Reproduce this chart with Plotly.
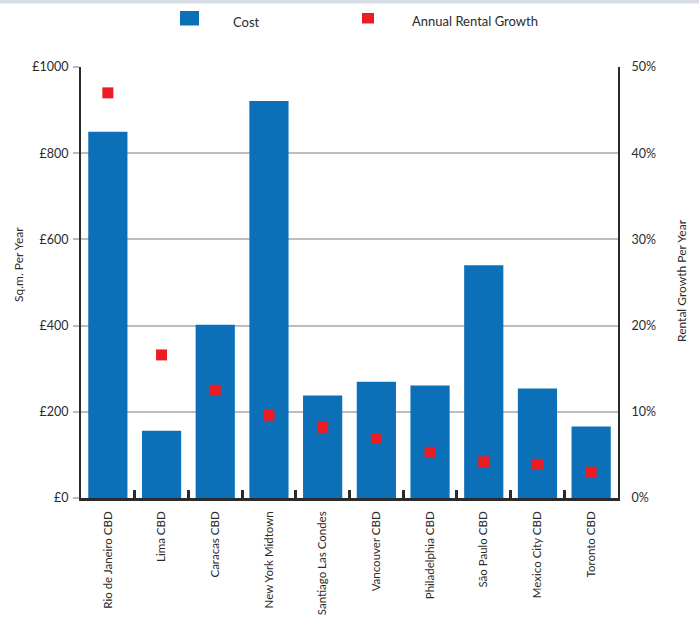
import plotly.graph_objects as go

# Office markets: occupancy cost and annual rental growth
markets = [
    "Rio de Janeiro CBD", "Lima CBD", "Caracas CBD", "New York Midtown",
    "Santiago Las Condes", "Vancouver CBD", "Philadelphia CBD",
    "São Paulo CBD", "Mexico City CBD", "Toronto CBD",
]
cost_gbp = [850, 156, 402, 921, 238, 270, 261, 540, 254, 166]
growth_pct = [47.0, 16.6, 12.5, 9.6, 8.2, 6.9, 5.3, 4.2, 3.9, 3.0]

cost_ticks = [0, 200, 400, 600, 800, 1000]
cost_tick_text = ["£0", "£200", "£400", "£600", "£800", "£1000"]

BLUE = "#0c70b8"
RED = "#ed1c24"
INK = "#2b2b2b"
FONT = "Lato"

W, H = 699, 619
ML, MR, MT, MB = 81, 81, 67, 121
PW, PH = W - ML - MR, H - MT - MB


def px_x(px):
    return (px - ML) / PW


def px_y(py):
    return (H - MB - py) / PH


fig = go.Figure()
fig.add_trace(go.Bar(
    x=markets, y=cost_gbp, name="Cost",
    marker=dict(color=BLUE, line=dict(width=0)),
    yaxis="y",
))
fig.add_trace(go.Scatter(
    x=markets, y=growth_pct, name="Annual Rental Growth",
    mode="markers",
    marker=dict(symbol="square", size=11, color=RED),
    yaxis="y2",
))

shapes = [
    # thin grey band along the top of the page
    dict(type="rect", xref="paper", yref="paper",
         x0=-0.3, x1=1.3, y0=px_y(3.5), y1=px_y(-5),
         fillcolor="#d6dce4", line=dict(width=0), layer="above"),
    # legend swatches
    dict(type="rect", xref="paper", yref="paper",
         x0=px_x(180), x1=px_x(199), y0=px_y(25.5), y1=px_y(11),
         fillcolor=BLUE, line=dict(width=0)),
    dict(type="rect", xref="paper", yref="paper",
         x0=px_x(362), x1=px_x(374), y0=px_y(23.5), y1=px_y(13),
         fillcolor=RED, line=dict(width=0)),
]

annotations = [
    dict(text="Cost", xref="paper", yref="paper", x=px_x(231), y=px_y(22),
         xanchor="left", yanchor="middle", showarrow=False,
         font=dict(family=FONT, size=13, color=INK)),
    dict(text="Annual Rental Growth", xref="paper", yref="paper",
         x=px_x(410), y=px_y(21), xanchor="left", yanchor="middle",
         showarrow=False, font=dict(family=FONT, size=13, color=INK)),
    dict(text="Sq.m. Per Year", xref="paper", yref="paper",
         x=px_x(18), y=px_y(265), textangle=-90, showarrow=False,
         xanchor="center", yanchor="middle",
         font=dict(family=FONT, size=12, color=INK)),
    dict(text="Rental Growth Per Year", xref="paper", yref="paper",
         x=px_x(681), y=px_y(281), textangle=-90, showarrow=False,
         xanchor="center", yanchor="middle",
         font=dict(family=FONT, size=12, color=INK)),
]

fig.update_layout(
    width=W, height=H,
    margin=dict(l=ML, r=MR, t=MT, b=MB, autoexpand=False),
    paper_bgcolor="white", plot_bgcolor="white",
    showlegend=False,
    bargap=0.27,
    font=dict(family=FONT, size=12, color=INK),
    shapes=shapes,
    annotations=annotations,
    xaxis=dict(
        type="category", automargin=False,
        range=[-0.5, len(markets) - 0.5],
        showline=True, linecolor=INK, linewidth=2.5,
        ticks="inside", tickson="boundaries", ticklen=8, tickwidth=2.5,
        tickcolor=INK,
        tickangle=-90, ticklabelstandoff=6,
        tickfont=dict(family=FONT, size=11.5, color=INK),
        showgrid=False,
    ),
    yaxis=dict(
        range=[0, 1000], automargin=False,
        tickvals=cost_ticks, ticktext=cost_tick_text,
        showline=True, linecolor=INK, linewidth=2,
        ticks="outside", ticklen=6, tickwidth=1.5, tickcolor="#bdbdbd",
        ticklabelstandoff=2,
        showgrid=True, gridcolor="#bdbdbd", gridwidth=1.5,
        zeroline=False,
        tickfont=dict(family=FONT, size=12.5, color=INK),
    ),
    yaxis2=dict(
        range=[0, 50], dtick=10, ticksuffix="%", automargin=False,
        overlaying="y", side="right",
        showline=True, linecolor=INK, linewidth=2,
        ticks="", ticklabelstandoff=9,
        showgrid=False, zeroline=False,
        tickfont=dict(family=FONT, size=12.5, color=INK),
    ),
)

fig.write_html("out.html")
